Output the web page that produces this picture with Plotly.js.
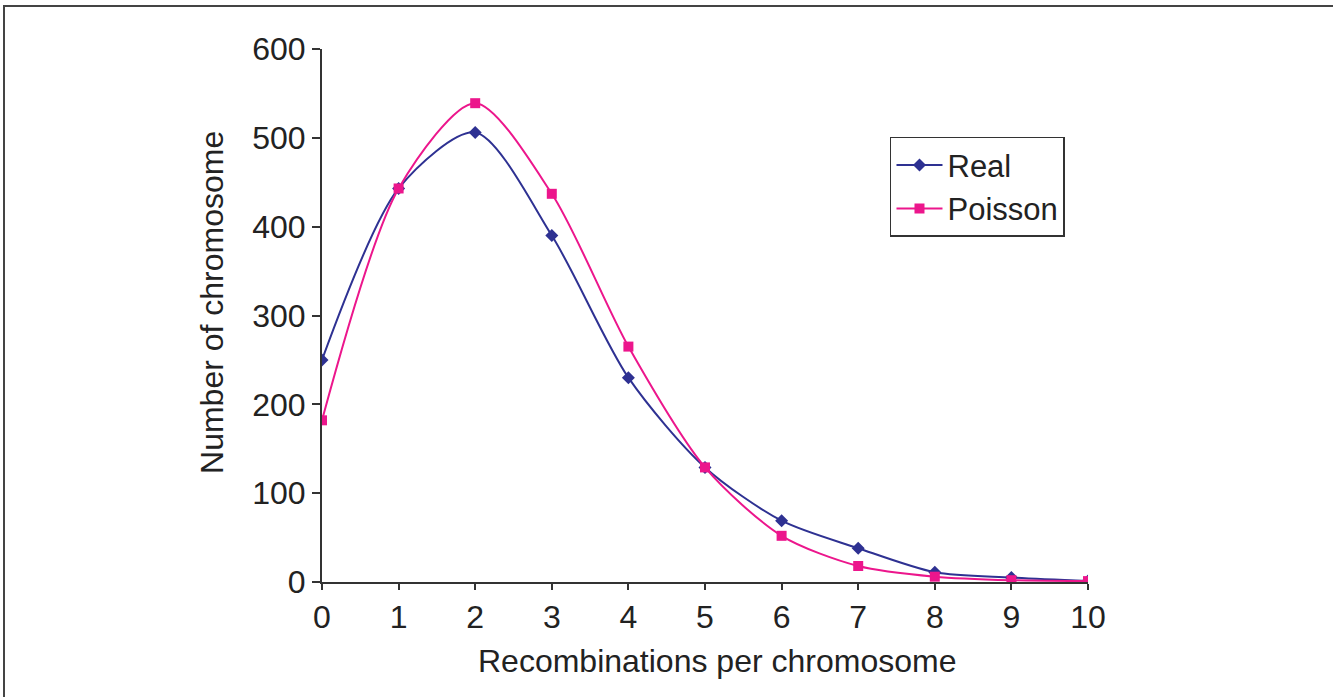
<!DOCTYPE html>
<html><head><meta charset="utf-8">
<script src="https://cdn.plot.ly/plotly-3.0.1.min.js"></script>
<style>html,body{margin:0;padding:0;background:#fff;}#frame{position:absolute;left:3px;top:5px;width:1340px;height:700px;border-left:2px solid #444;border-top:2px solid #444;pointer-events:none;}</style>
</head><body>
<div id="chart" style="width:1333px;height:697px;"></div>
<div id="frame"></div>
<script>
const recombinations = [0,1,2,3,4,5,6,7,8,9,10];
const realCounts = [250,443,506,390,230,129,69,38,11,5,1];
const poissonCounts = [182,443,539,437,265,129,52,18,6,2,1];
const xTicks = [0,1,2,3,4,5,6,7,8,9,10];
const yTicks = [0,100,200,300,400,500,600];
const xTitle = 'Recombinations per chromosome';
const yTitle = 'Number of chromosome';

const traces = [
 {x: recombinations, y: realCounts, name: 'Real', type:'scatter', mode:'lines+markers',
  line:{color:'#2E3192', width:2, shape:'spline', smoothing:0.8},
  marker:{symbol:'diamond', size:10, color:'#2E3192'}},
 {x: recombinations, y: poissonCounts, name: 'Poisson', type:'scatter', mode:'lines+markers',
  line:{color:'#EC168C', width:2, shape:'spline', smoothing:0.8},
  marker:{symbol:'square', size:10, color:'#EC168C'}}
];
const layout = {
 width:1333, height:697,
 margin:{l:322, r:245, t:49, b:115},
 paper_bgcolor:'#fff', plot_bgcolor:'#fff',
 font:{family:'Liberation Sans, Arial, sans-serif', color:'#222', size:32},
 showlegend:true,
 legend:{x:0.7415, y:0.835, xanchor:'left', yanchor:'top', bordercolor:'#333', borderwidth:1.5,
   bgcolor:'#fff', font:{size:31, color:'#222'}, tracegroupgap:0, itemwidth:46},
 xaxis:{range:[0,10], tickvals:xTicks, ticktext:xTicks.map(String), showgrid:false, zeroline:false,
   showline:true, linecolor:'#333', linewidth:2, ticks:'outside', ticklen:6, tickwidth:2, tickcolor:'#333',
   tickfont:{size:32}},
 yaxis:{range:[0,600], tickvals:yTicks, ticktext:yTicks.map(String), showgrid:false, zeroline:false,
   showline:true, linecolor:'#333', linewidth:2, ticks:'outside', ticklen:8, tickwidth:2, tickcolor:'#333',
   tickfont:{size:32}},
 annotations:[
  {text:xTitle, xref:'paper', yref:'paper', x:0.5157, y:-0.148, xanchor:'center', yanchor:'middle', showarrow:false, font:{size:32, color:'#222'}},
  {text:yTitle, xref:'paper', yref:'paper', x:-0.1436, y:0.5235, xanchor:'center', yanchor:'middle', textangle:-90, showarrow:false, font:{size:32, color:'#222'}}
 ]
};
Plotly.newPlot('chart', traces, layout, {displayModeBar:false, staticPlot:true});
</script>
</body></html>
